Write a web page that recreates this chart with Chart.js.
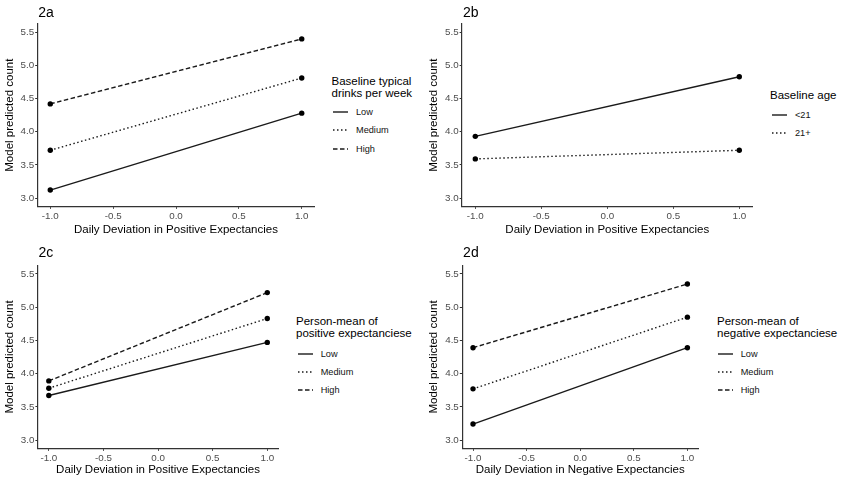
<!DOCTYPE html>
<html>
<head>
<meta charset="utf-8">
<script src="https://cdn.jsdelivr.net/npm/chart.js@4.4.1/dist/chart.umd.min.js"></script>
<style>
  body { margin: 0; background: #fff; font-family: "Liberation Sans", Arial, sans-serif; }
  #wrap { position: relative; width: 843px; height: 480px; overflow: hidden; background: #fff; }
  #wrap canvas { position: absolute; }
  .ptitle { position: absolute; font-size: 14px; line-height: 16px; color: #000; }
  .ltitle { position: absolute; font-size: 11.5px; line-height: 12px; color: #000; white-space: nowrap; }
  .lrow { position: absolute; height: 18px; display: flex; align-items: center; font-size: 9.2px; color: #111; white-space: nowrap; }
  .lrow svg { flex: none; }
</style>
</head>
<body>
<div id="wrap"></div>
<script>
// ---- data ----
const xValues = [-1, 1];
const xTicks = [-1, -0.5, 0, 0.5, 1];
const yTicks = [3.0, 3.5, 4.0, 4.5, 5.0, 5.5];

const levelLabels = ['Low', 'Medium', 'High'];
const ageLabels = ['<21', '21+'];

// 2a: baseline typical drinks per week
const drinksLow = [3.12, 4.28];
const drinksMedium = [3.72, 4.81];
const drinksHigh = [4.42, 5.40];

// 2b: baseline age
const ageUnder21 = [3.93, 4.83];
const age21Plus = [3.59, 3.72];

// 2c: person-mean of positive expectancies
const posMeanLow = [3.67, 4.47];
const posMeanMedium = [3.78, 4.83];
const posMeanHigh = [3.89, 5.22];

// 2d: person-mean of negative expectancies
const negMeanLow = [3.24, 4.39];
const negMeanMedium = [3.77, 4.85];
const negMeanHigh = [4.39, 5.35];

// solid / dotted / dashed, like ggplot linetypes
const lineDashes = [[], [1.5, 2.5], [4.5, 2.5]];
const inkColor = '#1a1a1a';

const panels = [
    {
        title: '2a', xTitle: 'Daily Deviation in Positive Expectancies',
        legendTitle: ['Baseline typical', 'drinks per week'],
        labels: levelLabels, series: [drinksLow, drinksMedium, drinksHigh],
        box: { L: 0, T: 0, cl: 37.7, cr: 314.3, ct: 24, cb: 206.3 },
        legend: { titleX: 331.5, titleTop: 75, keyX: 333, firstRow: 112, step: 18.4 }
    },
    {
        title: '2b', xTitle: 'Daily Deviation in Positive Expectancies',
        legendTitle: ['Baseline age'],
        labels: ageLabels, series: [ageUnder21, age21Plus],
        box: { L: 424.3, T: 0, cl: 462.4, cr: 752.8, ct: 24, cb: 206.3 },
        legend: { titleX: 770, titleTop: 89, keyX: 772, firstRow: 114.5, step: 18.8 }
    },
    {
        title: '2c', xTitle: 'Daily Deviation in Positive Expectancies',
        legendTitle: ['Person-mean of', 'positive expectanciese'],
        labels: levelLabels, series: [posMeanLow, posMeanMedium, posMeanHigh],
        box: { L: 0, T: 240, cl: 37.9, cr: 278.2, ct: 265.7, cb: 448.3 },
        legend: { titleX: 296, titleTop: 315, keyX: 297.7, firstRow: 353.5, step: 18.4 }
    },
    {
        title: '2d', xTitle: 'Daily Deviation in Negative Expectancies',
        legendTitle: ['Person-mean of', 'negative expectanciese'],
        labels: levelLabels, series: [negMeanLow, negMeanMedium, negMeanHigh],
        box: { L: 424.3, T: 240, cl: 462.6, cr: 698.4, ct: 265.7, cb: 448.3 },
        legend: { titleX: 717, titleTop: 315, keyX: 717.7, firstRow: 353.5, step: 18.4 }
    }
];

const wrap = document.getElementById('wrap');

function makePanel(p) {
    const b = p.box;
    const W = Math.ceil(b.cr - b.L) + 6;
    const H = 240;

    const canvas = document.createElement('canvas');
    canvas.width = W;
    canvas.height = H;
    canvas.style.left = b.L + 'px';
    canvas.style.top = b.T + 'px';
    canvas.style.width = W + 'px';
    canvas.style.height = H + 'px';
    wrap.appendChild(canvas);

    const datasets = p.series.map((vals, i) => ({
        label: p.labels[i],
        data: xValues.map((x, j) => ({ x: x, y: vals[j] })),
        borderColor: inkColor,
        borderWidth: 1.4,
        borderDash: lineDashes[i],
        pointRadius: 2.7,
        pointBackgroundColor: '#000',
        pointBorderWidth: 0,
        fill: false,
        tension: 0
    }));

    new Chart(canvas, {
        type: 'line',
        data: { datasets: datasets },
        options: {
            responsive: false,
            animation: false,
            devicePixelRatio: 1,
            layout: { padding: { left: 0, top: b.ct - b.T, right: b.L + W - b.cr, bottom: 0 } },
            plugins: { legend: { display: false }, tooltip: { enabled: false } },
            scales: {
                x: {
                    type: 'linear', min: -1.1, max: 1.1,
                    afterBuildTicks: axis => { axis.ticks = xTicks.map(v => ({ value: v })); },
                    afterFit: axis => { axis.height = b.T + H - b.cb; },
                    border: { display: true, color: '#333', width: 1.2 },
                    grid: { display: true, drawOnChartArea: false, drawTicks: true, tickLength: 2.5, tickColor: '#333', lineWidth: 1 },
                    ticks: {
                        padding: 1.5, color: '#4d4d4d', maxRotation: 0,
                        font: { family: 'Liberation Sans', size: 9.8 },
                        callback: v => v.toFixed(1)
                    },
                    title: {
                        display: true, text: p.xTitle, color: '#000',
                        font: { family: 'Liberation Sans', size: 11.5 },
                        padding: { top: 0, bottom: 3.3 }
                    }
                },
                y: {
                    type: 'linear', min: 2.875, max: 5.625,
                    afterBuildTicks: axis => { axis.ticks = yTicks.map(v => ({ value: v })); },
                    afterFit: axis => { axis.width = b.cl - b.L; },
                    border: { display: true, color: '#333', width: 1.2 },
                    grid: { display: true, drawOnChartArea: false, drawTicks: true, tickLength: 2.5, tickColor: '#333', lineWidth: 1 },
                    ticks: {
                        padding: 1, color: '#4d4d4d',
                        font: { family: 'Liberation Sans', size: 9.8 },
                        callback: v => v.toFixed(1)
                    },
                    title: {
                        display: true, text: 'Model predicted count', color: '#000',
                        font: { family: 'Liberation Sans', size: 11.5 },
                        padding: { top: 3.1, bottom: 0 }
                    }
                }
            }
        }
    });

    // panel tag
    const t = document.createElement('div');
    t.className = 'ptitle';
    t.textContent = p.title;
    t.style.left = (b.cl + 0.5) + 'px';
    t.style.top = (b.T + 3.5) + 'px';
    wrap.appendChild(t);

    // legend, ggplot style
    const lg = p.legend;
    const lt = document.createElement('div');
    lt.className = 'ltitle';
    lt.innerHTML = p.legendTitle.join('<br>');
    lt.style.left = lg.titleX + 'px';
    lt.style.top = lg.titleTop + 'px';
    wrap.appendChild(lt);

    p.labels.forEach((label, i) => {
        const row = document.createElement('div');
        row.className = 'lrow';
        row.style.left = lg.keyX + 'px';
        row.style.top = (lg.firstRow + i * lg.step - 9) + 'px';
        const dash = lineDashes[i].length ? lineDashes[i].join(' ') : 'none';
        row.innerHTML =
            '<svg width="23" height="6"><line x1="0" y1="3" x2="15" y2="3" stroke="' + inkColor +
            '" stroke-width="1.4" stroke-dasharray="' + dash + '"/></svg>';
        const span = document.createElement('span');
        span.textContent = label;
        row.appendChild(span);
        wrap.appendChild(row);
    });
}

panels.forEach(makePanel);
</script>
</body>
</html>
